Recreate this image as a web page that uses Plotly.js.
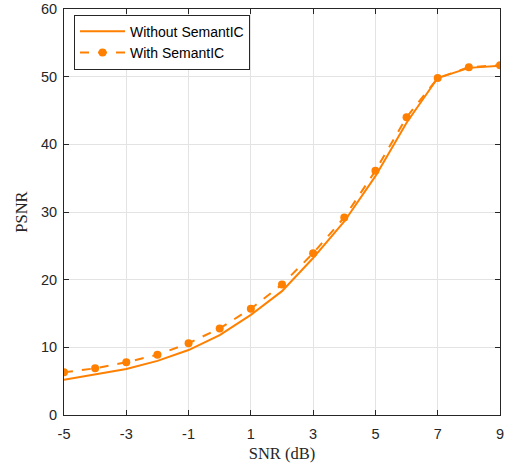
<!DOCTYPE html>
<html>
<head>
<meta charset="utf-8">
<script src="https://cdn.plot.ly/plotly-3.0.1.min.js"></script>
<style>html,body{margin:0;padding:0;background:#fff;}#chart{width:516px;height:465px;}</style>
</head>
<body>
<div id="chart"></div>
<script>
const snr = [-5, -4, -3, -2, -1, 0, 1, 2, 3, 4, 5, 6, 7, 8, 9];
const psnrWithout = [5.2, 6.0, 6.8, 8.0, 9.6, 11.8, 14.8, 18.3, 23.2, 28.6, 35.3, 43.2, 49.8, 51.3, 51.6];
const psnrWith = [6.3, 6.9, 7.8, 8.9, 10.6, 12.8, 15.7, 19.3, 23.9, 29.2, 36.1, 44.0, 49.8, 51.4, 51.7];
const xTicks = [-5, -3, -1, 1, 3, 5, 7, 9];
const yTicks = [0, 10, 20, 30, 40, 50, 60];
const names = ['Without SemantIC', 'With SemantIC'];

const orange = '#ff8000';
const traces = [
  {x: snr, y: psnrWithout, name: names[0], mode: 'lines', line: {color: orange, width: 2}},
  {x: snr, y: psnrWith, name: names[1], mode: 'lines+markers', line: {color: orange, width: 2, dash: 'dash'},
   marker: {color: orange, size: 8}}
];
const axisCommon = {
  showline: true, linecolor: '#262626', linewidth: 1, mirror: 'ticks',
  ticks: 'inside', ticklen: 5, tickcolor: '#262626',
  showgrid: true, gridcolor: '#e3e3e3', gridwidth: 1, zeroline: false,
  tickfont: {family: 'Liberation Sans, Arial, sans-serif', size: 14.5, color: '#262626'}
};
const titleFont = {family: 'Liberation Serif, Times New Roman, serif', size: 16.5, color: '#262626'};
const layout = {
  width: 516, height: 465,
  margin: {l: 64, r: 16, t: 9, b: 50},
  paper_bgcolor: '#fff', plot_bgcolor: '#fff',
  showlegend: true,
  legend: {x: 0.023, y: 0.986, xanchor: 'left', yanchor: 'top', bgcolor: '#fff',
    bordercolor: '#262626', borderwidth: 1, itemwidth: 45, tracegroupgap: 0,
    font: {family: 'Liberation Sans, Arial, sans-serif', size: 14, color: '#000'}},
  xaxis: Object.assign({}, axisCommon, {range: [-5, 9], tickvals: xTicks, ticktext: xTicks.map(String),
    ticklabelstandoff: 6,
    title: {text: 'SNR (dB)', standoff: 6, font: titleFont}}),
  yaxis: Object.assign({}, axisCommon, {range: [0, 60], tickvals: yTicks, ticktext: yTicks.map(String),
    ticklabelstandoff: 3,
    title: {text: 'PSNR', standoff: 9, font: titleFont}})
};
Plotly.newPlot('chart', traces, layout, {displayModeBar: false, staticPlot: true});
</script>
</body>
</html>
